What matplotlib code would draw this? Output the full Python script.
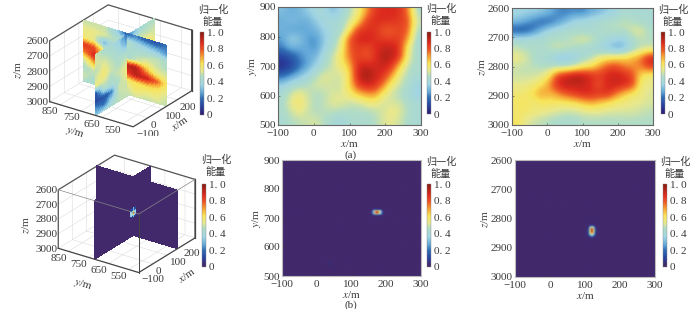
import numpy as np
import matplotlib
matplotlib.use('Agg')
import matplotlib.pyplot as plt
from matplotlib.colors import LinearSegmentedColormap

plt.rcParams['font.family'] = ['Liberation Serif', 'Noto Sans CJK SC']
plt.rcParams['mathtext.fontset'] = 'stix'
plt.rcParams['font.size'] = 8.0
plt.rcParams['text.color'] = '#3a3a3a'
plt.rcParams['axes.labelcolor'] = '#3a3a3a'
plt.rcParams['xtick.color'] = '#3a3a3a'
plt.rcParams['ytick.color'] = '#3a3a3a'

W, H = 700, 309

x_ticks = [-100, 0, 100, 200, 300]
y_ticks = [500, 600, 700, 800, 900]
z_ticks = [2600, 2700, 2800, 2900, 3000]
cbar_ticks = [0, 0.2, 0.4, 0.6, 0.8, 1.0]
cbar_labels = ['0', '0. 2', '0. 4', '0. 6', '0. 8', '1. 0']

# energy x100, rows y=900 -> 500, cols x=-100 -> 300
slice_xy = [
    [32, 28, 30, 34, 40, 40, 30, 38, 46, 56, 70, 84, 87, 87, 86, 74, 44],
    [28, 32, 30, 28, 34, 40, 42, 42, 52, 60, 82, 87, 87, 86, 84, 80, 50],
    [30, 26, 26, 28, 30, 36, 40, 42, 58, 84, 85, 86, 78, 78, 82, 78, 45],
    [26, 36, 34, 26, 24, 34, 40, 52, 80, 88, 90, 86, 84, 82, 84, 70, 42],
    [22, 30, 28, 28, 24, 36, 44, 56, 78, 84, 80, 86, 90, 92, 84, 56, 42],
    [10, 14, 22, 28, 30, 42, 50, 60, 76, 84, 78, 84, 94, 92, 84, 54, 44],
    [5, 10, 20, 26, 36, 44, 50, 58, 66, 88, 90, 88, 90, 86, 64, 48, 44],
    [18, 24, 30, 38, 46, 54, 52, 50, 62, 90, 97, 90, 86, 72, 54, 46, 42],
    [34, 40, 44, 46, 52, 52, 50, 50, 64, 84, 90, 88, 76, 58, 50, 44, 38],
    [42, 50, 56, 50, 46, 48, 52, 52, 58, 68, 72, 74, 60, 50, 46, 42, 34],
    [44, 54, 60, 52, 46, 48, 54, 54, 50, 50, 56, 58, 50, 52, 50, 44, 42],
    [44, 50, 56, 50, 46, 48, 48, 46, 46, 46, 46, 48, 52, 56, 54, 46, 42],
    [42, 46, 48, 50, 52, 46, 42, 38, 44, 44, 44, 46, 52, 54, 50, 44, 42],
]

# rows z=2600 -> 3000, cols x=-100 -> 300
slice_xz = [
    [38, 36, 36, 34, 30, 24, 22, 24, 22, 28, 30, 34, 38, 42, 42, 42, 42],
    [32, 28, 22, 18, 18, 24, 30, 38, 40, 42, 44, 46, 46, 50, 46, 44, 42],
    [14, 14, 20, 30, 38, 42, 44, 44, 42, 42, 44, 46, 48, 46, 52, 54, 46],
    [42, 42, 44, 44, 46, 46, 46, 50, 54, 52, 44, 40, 36, 36, 44, 48, 46],
    [50, 46, 46, 44, 48, 52, 50, 46, 42, 40, 38, 32, 28, 28, 42, 48, 50],
    [56, 54, 46, 42, 40, 32, 30, 34, 42, 46, 56, 60, 62, 64, 68, 74, 90],
    [50, 48, 48, 46, 46, 46, 46, 50, 58, 62, 70, 80, 82, 74, 72, 74, 84],
    [50, 50, 50, 52, 60, 84, 90, 96, 94, 88, 84, 88, 90, 88, 82, 62, 56],
    [54, 54, 56, 62, 72, 88, 92, 90, 90, 86, 78, 88, 90, 88, 84, 58, 54],
    [58, 58, 64, 72, 68, 72, 80, 84, 88, 88, 86, 88, 76, 66, 60, 56, 52],
    [60, 62, 56, 60, 60, 60, 60, 62, 66, 70, 66, 62, 58, 56, 54, 54, 52],
    [58, 60, 58, 56, 54, 52, 50, 50, 52, 54, 54, 52, 52, 52, 52, 50, 48],
    [62, 54, 50, 48, 46, 44, 44, 44, 46, 46, 46, 46, 46, 46, 46, 46, 46],
]

# 3d walls: rows z=2600 -> 3000, cols y=900 -> 500 (step 50)
wall_yz = [
    [50, 50, 50, 40, 20, 24, 18, 16, 22],
    [55, 55, 52, 46, 48, 40, 36, 32, 24],
    [58, 54, 30, 46, 44, 44, 46, 48, 44],
    [85, 80, 55, 46, 40, 50, 55, 50, 46],
    [72, 88, 60, 52, 92, 94, 70, 56, 52],
    [50, 70, 54, 60, 82, 92, 90, 78, 58],
    [45, 50, 48, 52, 58, 62, 64, 62, 54],
    [50, 45, 46, 50, 50, 58, 55, 55, 50],
    [45, 42, 44, 48, 48, 50, 48, 50, 48],
]
# cols x=-100 -> 300 (step 50)
wall_xz = [
    [50, 44, 42, 36, 22, 30, 42, 46, 46],
    [52, 50, 45, 40, 30, 42, 50, 48, 50],
    [48, 55, 48, 44, 44, 50, 56, 58, 52],
    [52, 58, 50, 46, 50, 52, 54, 56, 60],
    [55, 52, 46, 50, 55, 52, 52, 54, 56],
    [16, 44, 44, 46, 55, 50, 50, 52, 54],
    [12, 14, 22, 50, 50, 50, 50, 50, 52],
    [25, 20, 36, 48, 50, 48, 48, 48, 50],
    [35, 42, 44, 48, 48, 46, 46, 46, 48],
]
wall_zero = [[0] * 9 for i in range(9)]

# hot spots of the lower row, energy x100
spot_xy = [
    [0, 5, 10, 10, 10, 5, 0],
    [10, 35, 50, 70, 50, 40, 10],
    [15, 50, 85, 100, 70, 40, 15],
    [10, 30, 50, 70, 45, 35, 10],
    [0, 5, 10, 10, 10, 5, 0],
]
spot_xy_x = [160, 165, 170, 175, 180, 185, 190]
spot_xy_y = [730, 725, 720, 715, 710]
faint_xy = (35, 540, 9)

spot_xz = [
    [0, 10, 20, 10, 0],
    [5, 35, 55, 35, 5],
    [10, 50, 90, 50, 10],
    [15, 60, 100, 60, 15],
    [15, 60, 95, 55, 15],
    [15, 55, 75, 50, 10],
    [10, 40, 50, 35, 10],
    [5, 20, 30, 20, 5],
    [0, 5, 10, 5, 0],
]
spot_xz_x = [110, 115, 120, 125, 130]
spot_xz_z = [2825, 2830, 2835, 2840, 2845, 2850, 2855, 2860, 2865]
faint_xz = (120, 2810, 7)

spot_3d = [
    [12, 30, 12],
    [35, 62, 35],
    [38, 75, 38],
    [35, 62, 35],
    [12, 30, 12],
]

stops = [(0.2, '#2f6cb4'), (0.27, '#62a8d8'), (0.36, '#a0d4e4'), (0.46, '#b0dcc8'), (0.54, '#e8e88c'),
         (0.62, '#f8e458'), (0.7, '#f6a636'), (0.78, '#ee5a26'), (0.87, '#dc2a1e'), (1.0, '#861a12')]
zero_color = '#41296c'
cmap = LinearSegmentedColormap.from_list('energy', [(0.0, '#2c1a6e'), (0.1, '#27409c')] + stops)
cmap_b = LinearSegmentedColormap.from_list('energy_b', [(0.0, zero_color), (0.03, zero_color), (0.1, '#27409c')] + stops)

fig = plt.figure(figsize=(W / 100, H / 100), dpi=100)


def rect(x0, y0, x1, y1):
    return [x0 / W, 1 - y1 / H, (x1 - x0) / W, (y1 - y0) / H]


def add_cbar(x0, y0, x1, y1, cm, tx, ty):
    cax = fig.add_axes(rect(x0, y0, x1, y1))
    sm = plt.cm.ScalarMappable(norm=plt.Normalize(0, 1), cmap=cm)
    cb = fig.colorbar(sm, cax=cax, ticks=cbar_ticks)
    cb.ax.set_yticklabels(cbar_labels)
    cb.ax.tick_params(length=0, pad=2.2)
    cb.outline.set_linewidth(0.3)
    cb.outline.set_edgecolor('#888888')
    fig.text(tx / W, 1 - ty / H, '归一化', ha='center', va='center', fontsize=7.3)
    fig.text(tx / W, 1 - (ty + 12) / H, '能量', ha='center', va='center', fontsize=7.3)


def flat_panel(box, data, extent, yticks, ylabel, cm, frame):
    ax = fig.add_axes(rect(*box))
    ax.imshow(data, extent=extent, aspect='auto', cmap=cm, vmin=0, vmax=1, interpolation='bicubic')
    ax.set_xticks(x_ticks)
    ax.set_yticks(yticks)
    ax.set_xlim(extent[0], extent[1])
    ax.set_ylim(extent[2], extent[3])
    ax.tick_params(direction='in', length=1.5, width=0.4)
    ax.tick_params(axis='x', pad=3.2)
    ax.tick_params(axis='y', pad=1.5)
    ax.set_xlabel('$x$/m', labelpad=-0.2, fontsize=8.0)
    ax.set_ylabel(ylabel, labelpad=0, fontsize=8.2)
    for s in ax.spines.values():
        s.set_linewidth(0.8)
        s.set_color(frame)
    return ax


def upsample(v, n=50):
    v = np.array(v, dtype=float) / 100.0
    rows = np.linspace(0, v.shape[0] - 1, n)
    cols = np.linspace(0, v.shape[1] - 1, n)
    tmp = np.array([np.interp(cols, np.arange(v.shape[1]), r) for r in v])
    return np.array([np.interp(rows, np.arange(v.shape[0]), tmp[:, c]) for c in range(n)]).T


def wall(ax, yz, xz, cm, xs, ys, order):
    zz = np.linspace(2600, 3000, 50)
    yy = np.linspace(900, 500, 50)
    xx = np.linspace(-100, 300, 50)
    colors1 = cm(upsample(yz))
    colors2 = cm(upsample(xz))

    def yz_piece(mask, zo):
        Y, Z = np.meshgrid(yy[mask], zz)
        ax.plot_surface(np.full_like(Y, xs), Y, Z, facecolors=colors1[:, mask], shade=False,
                        rstride=1, cstride=1, antialiased=False, linewidth=0, zorder=zo)

    def xz_piece(mask, zo):
        X, Z = np.meshgrid(xx[mask], zz)
        ax.plot_surface(X, np.full_like(X, ys), Z, facecolors=colors2[:, mask], shade=False,
                        rstride=1, cstride=1, antialiased=False, linewidth=0, zorder=zo)

    yz_piece(yy >= ys, order)
    xz_piece(xx >= xs, order + 1)
    xz_piece(xx <= xs + 8, order + 2)
    yz_piece(yy <= ys + 8, order + 3)


def cube_panel(box, yz, xz, cm, xs, ys, scale, front_lines):
    ax = fig.add_axes(rect(*box), projection='3d', proj_type='ortho', computed_zorder=False)
    ax.set_box_aspect((1, 1, 0.66), zoom=scale)
    ax.view_init(elev=25.5, azim=-145)
    ax.set_xlim(-100, 300)
    ax.set_ylim(500, 900)
    ax.set_zlim(3000, 2600)
    wall(ax, yz, xz, cm, xs, ys, 2)
    ax.set_xticks([-100, 0, 100, 200])
    ax.set_yticks([550, 650, 750, 850])
    ax.set_zticks(z_ticks)
    ax.tick_params(axis='x', pad=-6, length=0)
    ax.tick_params(axis='y', pad=-6.5)
    ax.tick_params(axis='z', pad=-3)
    for t in ax.xaxis.get_major_ticks():
        t.label1.set_ha('left')
    for t in ax.yaxis.get_major_ticks():
        t.label1.set_ha('right')
    for t in ax.zaxis.get_major_ticks():
        t.label1.set_va('center')
    for a in (ax.xaxis, ax.yaxis, ax.zaxis):
        a.set_pane_color((1, 1, 1, 0))
        a.pane.set_edgecolor((1, 1, 1, 0))
        a._axinfo['grid']['color'] = '#dcdcdc'
        a._axinfo['grid']['linewidth'] = 0.4
        a._axinfo['tick']['inward_factor'] = 0
        a._axinfo['tick']['outward_factor'] = 0
        a.line.set_color((1, 1, 1, 0))
    # box frame
    dark = dict(color='#444444', lw=0.9, zorder=8)
    ax.plot([-100, -100, 300, 300], [900, 900, 900, 500], [3000, 2600, 2600, 2600], color='#555555', lw=0.9, zorder=1)
    ax.plot([300, 300], [500, 500], [2600, 3000], **dark)
    ax.plot([-100, -100, 300, 300], [900, 500, 500, 500], [3000, 3000, 3000, 2600], **dark)
    if front_lines:
        ax.plot([-100, -100, 300], [900, 500, 500], [2600, 2600, 2600], color='#888888', lw=0.5, zorder=9)
        ax.plot([-100, -100], [500, 500], [2600, 3000], color='#444444', lw=0.7, zorder=9)
    return ax


# upper row
ax = cube_panel((21, -12, 216, 148), wall_yz, wall_xz, cmap, 130, 680, 0.966, False)
fig.text(18 / W, 1 - 70 / H, '$z$/m', rotation=90, ha='center', va='center', fontsize=8.2)
fig.text(75 / W, 1 - 132 / H, '$y$/m', rotation=-16, ha='center', va='center', fontsize=8.2)
fig.text(180 / W, 1 - 123 / H, '$x$/m', rotation=35, ha='center', va='center', fontsize=8.2)
add_cbar(200, 32, 204, 115, cmap, 213, 10)

flat_panel((278, 7, 421, 125), np.array(slice_xy) / 100.0, [-100, 300, 500, 900], y_ticks, '$y$/m', cmap, '#666666')
add_cbar(427, 32, 431, 114, cmap, 441, 9)
fig.text(351 / W, 1 - 155 / H, '(a)', ha='center', va='center', fontsize=8)

flat_panel((512, 8, 653, 125), np.array(slice_xz) / 100.0, [-100, 300, 3000, 2600], z_ticks, '$z$/m', cmap, '#666666')
add_cbar(661, 32, 665, 114, cmap, 673, 10)

# lower row
ax = cube_panel((27, 136, 222, 296), wall_zero, wall_zero, cmap_b, 175, 720, 0.93, True)
sx, sz = np.meshgrid(np.linspace(158, 192, 4), np.linspace(2815, 2870, 6))
vals = np.array(spot_3d, dtype=float) / 100.0
ax.plot_surface(sx, np.full_like(sx, 720), sz, facecolors=cmap_b(vals), shade=False,
                rstride=1, cstride=1, antialiased=False, linewidth=0, zorder=7)
fig.text(26 / W, 1 - 225 / H, '$z$/m', rotation=90, ha='center', va='center', fontsize=8.2)
fig.text(83 / W, 1 - 284 / H, '$y$/m', rotation=-16, ha='center', va='center', fontsize=8.2)
fig.text(187 / W, 1 - 275 / H, '$x$/m', rotation=35, ha='center', va='center', fontsize=8.2)
add_cbar(202, 184, 206, 267, cmap_b, 216, 160)

grid_x = np.arange(-100, 305, 5)
grid_y = np.arange(900, 495, -5)
field_xy = np.zeros((len(grid_y), len(grid_x)))
for i, yv in enumerate(spot_xy_y):
    for j, xv in enumerate(spot_xy_x):
        field_xy[np.where(grid_y == yv)[0][0], np.where(grid_x == xv)[0][0]] = spot_xy[i][j] / 100.0
field_xy[np.where(grid_y == faint_xy[1])[0][0], np.where(grid_x == faint_xy[0])[0][0]] = faint_xy[2] / 100.0
flat_panel((282, 160, 421, 276), field_xy, [-100, 300, 500, 900], y_ticks, '$y$/m', cmap_b, '#bbbbbb')
add_cbar(427, 184, 431, 267, cmap_b, 441, 162)
fig.text(351 / W, 1 - 305.5 / H, '(b)', ha='center', va='center', fontsize=8)

grid_z = np.arange(2600, 3005, 5)
field_xz = np.zeros((len(grid_z), len(grid_x)))
for i, zv in enumerate(spot_xz_z):
    for j, xv in enumerate(spot_xz_x):
        field_xz[np.where(grid_z == zv)[0][0], np.where(grid_x == xv)[0][0]] = spot_xz[i][j] / 100.0
field_xz[np.where(grid_z == faint_xz[1])[0][0], np.where(grid_x == faint_xz[0])[0][0]] = faint_xz[2] / 100.0
flat_panel((515, 160, 655, 277), field_xz, [-100, 300, 3000, 2600], z_ticks, '$z$/m', cmap_b, '#bbbbbb')
add_cbar(663, 184, 667, 267, cmap_b, 675, 162)

fig.savefig('out.png', dpi=100)
